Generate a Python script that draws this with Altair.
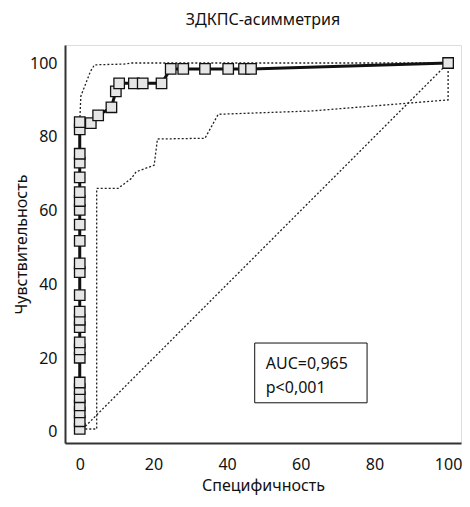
import altair as alt
import pandas as pd

# ROC curve points (specificity axis as drawn, sensitivity)
roc_x = [0, 0, 0, 0, 0, 0, 0, 0, 0, 0, 0, 0, 0, 0, 0, 0, 0, 0, 0, 0, 0, 0, 0, 0, 0, 0,
         3, 5, 8.6, 9.8, 10.7, 14.7, 17.1, 22.2, 24.7, 28.1, 34, 40.3, 44.6, 46.5, 100]
roc_y = [0.8, 2.9, 5.3, 7.2, 9.4, 11.6, 13.4, 20.1, 22.4, 24.3, 28.4, 30.4, 32.6, 37.1,
         43.3, 45.7, 51.8, 56.2, 60.2, 62.6, 65, 69, 73, 75.4, 82, 84,
         83.7, 85.8, 88, 92.3, 94.5, 94.5, 94.5, 94.5, 98.4, 98.4, 98.4, 98.4, 98.4, 98.4, 100]

# confidence bands
upper_x = [0, 0, 0.3, 2.9, 4, 12, 14, 100]
upper_y = [0.8, 84, 91, 97.7, 99.5, 99.7, 100, 100]
lower_x = [1.5, 4.6, 4.6, 10.4, 14, 15.3, 20.2, 21.1, 34, 37.6, 63, 100, 100]
lower_y = [0.8, 0.8, 66, 66, 68.7, 70.5, 72.3, 79.4, 79.6, 86.1, 87, 90, 100]

diag_x = [0, 100]
diag_y = [0, 100]

title = "ЗДКПС-асимметрия"
x_title = "Специфичность"
y_title = "Чувствительность"
auc_text = "AUC=0,965"
p_text = "p<0,001"

FONT = "Noto Sans"
xs = alt.Scale(domain=[-4, 103.5], nice=False, zero=False)
ys = alt.Scale(domain=[-3, 104.88], nice=False, zero=False)

roc = pd.DataFrame({"x": roc_x, "y": roc_y, "i": range(len(roc_x))})
up = pd.DataFrame({"x": upper_x, "y": upper_y, "i": range(len(upper_x))})
lo = pd.DataFrame({"x": lower_x, "y": lower_y, "i": range(len(lower_x))})
dg = pd.DataFrame({"x": diag_x, "y": diag_y, "i": range(len(diag_x))})

xax = alt.Axis(values=[0, 20, 40, 60, 80, 100], ticks=False, grid=False,
               domainColor="#333", domainWidth=2, labelFontSize=16, labelFont=FONT,
               labelColor="#111", labelPadding=13, title=x_title, titleFont=FONT,
               titleFontSize=16, titleFontWeight="normal", titleColor="#111", titlePadding=5)
yax = alt.Axis(values=[0, 20, 40, 60, 80, 100], ticks=False, grid=False,
               domainColor="#333", domainWidth=2, labelFontSize=16, labelFont=FONT,
               labelColor="#111", labelPadding=8, title=y_title, titleFont=FONT,
               titleFontSize=16, titleFontWeight="normal", titleColor="#111", titlePadding=0)

def dotted(df):
    return alt.Chart(df).mark_line(color="#222", strokeWidth=1.3, strokeDash=[2, 2]).encode(
        x=alt.X("x:Q", scale=xs, axis=xax), y=alt.Y("y:Q", scale=ys, axis=yax), order="i:Q")

band_up = dotted(up)
band_lo = dotted(lo)
diag = dotted(dg)

roc_line = alt.Chart(roc).mark_line(color="#111", strokeWidth=3).encode(
    x=alt.X("x:Q", scale=xs, axis=xax), y=alt.Y("y:Q", scale=ys, axis=yax), order="i:Q")
roc_pts = alt.Chart(roc).mark_point(shape="square", size=110, filled=True, fill="#e6e6e6",
                                    stroke="#111", strokeWidth=1.3, opacity=1).encode(
    x=alt.X("x:Q", scale=xs), y=alt.Y("y:Q", scale=ys))

box = alt.Chart(pd.DataFrame({"x": [47.5], "x2": [78.0], "y": [7.9], "y2": [24.1]})).mark_rect(
    fill="white", stroke="#111", strokeWidth=1).encode(
    x=alt.X("x:Q", scale=xs), x2="x2:Q", y=alt.Y("y:Q", scale=ys), y2="y2:Q")

txt = alt.Chart(pd.DataFrame({"x": [50.5, 50.5], "y": [18.4, 11.8], "t": [auc_text, p_text]})).mark_text(
    align="left", baseline="middle", font=FONT, fontSize=16, color="#111").encode(
    x=alt.X("x:Q", scale=xs), y=alt.Y("y:Q", scale=ys), text="t:N")

chart = alt.layer(diag, band_up, band_lo, roc_line, roc_pts, box, txt).properties(
    width=396, height=398,
    title=alt.Title(title, font=FONT, fontSize=16, fontWeight="normal", color="#111",
                    anchor="middle", offset=17),
    autosize=alt.AutoSizeParams(type="none"),
    padding={"left": 57, "top": 37, "right": 1, "bottom": 56},
).configure_view(stroke=None).configure(background="white")

chart.save("out.html", embed_options={"renderer": "svg", "actions": False})
